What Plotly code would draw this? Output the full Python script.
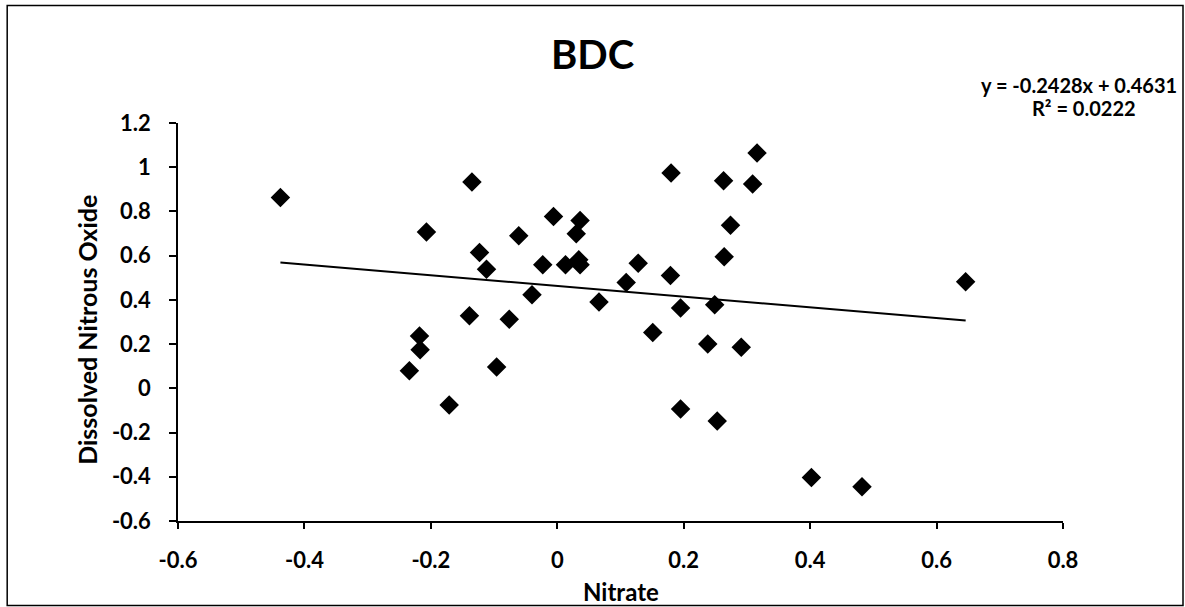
import plotly.graph_objects as go

# ---- data ----
nitrate = [-0.438, -0.234, -0.218, -0.217, -0.207, -0.171, -0.139, -0.135, -0.123, -0.112,
           -0.096, -0.076, -0.061, -0.040, -0.023, -0.006, 0.013, 0.030, 0.034, 0.036,
           0.036, 0.066, 0.109, 0.128, 0.151, 0.179, 0.180, 0.195, 0.195, 0.238,
           0.249, 0.253, 0.263, 0.264, 0.274, 0.291, 0.309, 0.316, 0.402, 0.482, 0.646]
n2o = [0.863, 0.080, 0.237, 0.174, 0.707, -0.075, 0.328, 0.933, 0.614, 0.539,
       0.096, 0.313, 0.690, 0.423, 0.559, 0.777, 0.559, 0.699, 0.581, 0.759,
       0.559, 0.390, 0.479, 0.566, 0.252, 0.510, 0.974, 0.363, -0.093, 0.201,
       0.378, -0.148, 0.939, 0.595, 0.737, 0.186, 0.924, 1.064, -0.403, -0.445, 0.482]

slope = -0.2428
intercept = 0.4631
r_squared = 0.0222

x_tick_vals = [-0.6, -0.4, -0.2, 0, 0.2, 0.4, 0.6, 0.8]
x_tick_text = ["-0.6", "-0.4", "-0.2", "0", "0.2", "0.4", "0.6", "0.8"]
y_tick_vals = [-0.6, -0.4, -0.2, 0, 0.2, 0.4, 0.6, 0.8, 1.0, 1.2]
y_tick_text = ["-0.6", "-0.4", "-0.2", "0", "0.2", "0.4", "0.6", "0.8", "1", "1.2"]

title_text = "BDC"
x_title = "Nitrate"
y_title = "Dissolved Nitrous Oxide"

# ---- figure ----
FONT = "Lato"
fig = go.Figure()

fig.add_trace(go.Scatter(
    x=nitrate, y=n2o, mode="markers",
    marker=dict(symbol="diamond", size=15, color="black", line=dict(width=0)),
    showlegend=False, hoverinfo="x+y"))

x_line = [min(nitrate), max(nitrate)]
y_line = [slope * v + intercept for v in x_line]
fig.add_trace(go.Scatter(
    x=x_line, y=y_line, mode="lines",
    line=dict(color="black", width=2), showlegend=False, hoverinfo="skip"))

axis_common = dict(
    showgrid=False, zeroline=False, showline=True, linecolor="black", linewidth=1.5,
    ticks="outside", tickcolor="black", tickwidth=1.5,
    tickfont=dict(family=FONT, size=22, color="black", weight="bold"),
)

fig.update_xaxes(range=[-0.6, 0.8], tickvals=x_tick_vals, ticktext=x_tick_text,
                 ticklen=6, ticklabelstandoff=13, **axis_common)
fig.update_yaxes(range=[-0.6, 1.2], tickvals=y_tick_vals, ticktext=y_tick_text,
                 ticklen=7, ticklabelstandoff=14, **axis_common)

eq_text = f"y = {slope:.4f}x + {intercept:.4f}"
r2_text = f"R² = {r_squared:.4f}"

fig.update_layout(
    width=1185, height=607,
    margin=dict(l=178, r=122, t=123, b=86),
    paper_bgcolor="white", plot_bgcolor="white",
    title=dict(text=title_text, x=0.5, xref="container", xanchor="center",
               y=1 - 55 / 607, yref="container", yanchor="middle",
               font=dict(family=FONT, size=40, color="black", weight="bold")),
    annotations=[
        dict(text=x_title, xref="paper", yref="paper", x=0.5, y=-0.178,
             xanchor="center", yanchor="middle", showarrow=False,
             font=dict(family=FONT, size=24, color="black", weight="bold")),
        dict(text=y_title, xref="paper", yref="paper", x=-0.103, y=0.48,
             xanchor="center", yanchor="middle", showarrow=False, textangle=-90,
             font=dict(family=FONT, size=25, color="black", weight="bold")),
        dict(text=eq_text, xref="paper", yref="paper", x=1.018, y=1.096,
             xanchor="center", yanchor="middle", showarrow=False,
             font=dict(family=FONT, size=20, color="black", weight="bold")),
        dict(text=r2_text, xref="paper", yref="paper", x=1.024, y=1.038,
             xanchor="center", yanchor="middle", showarrow=False,
             font=dict(family=FONT, size=20, color="black", weight="bold")),
    ],
    shapes=[dict(type="rect", xref="paper", yref="paper",
                 x0=-0.193, x1=1.1356, y0=-0.2125, y1=1.295,
                 line=dict(color="black", width=1.5), fillcolor="rgba(0,0,0,0)",
                 layer="below")],
)

fig.write_html("out.html")
